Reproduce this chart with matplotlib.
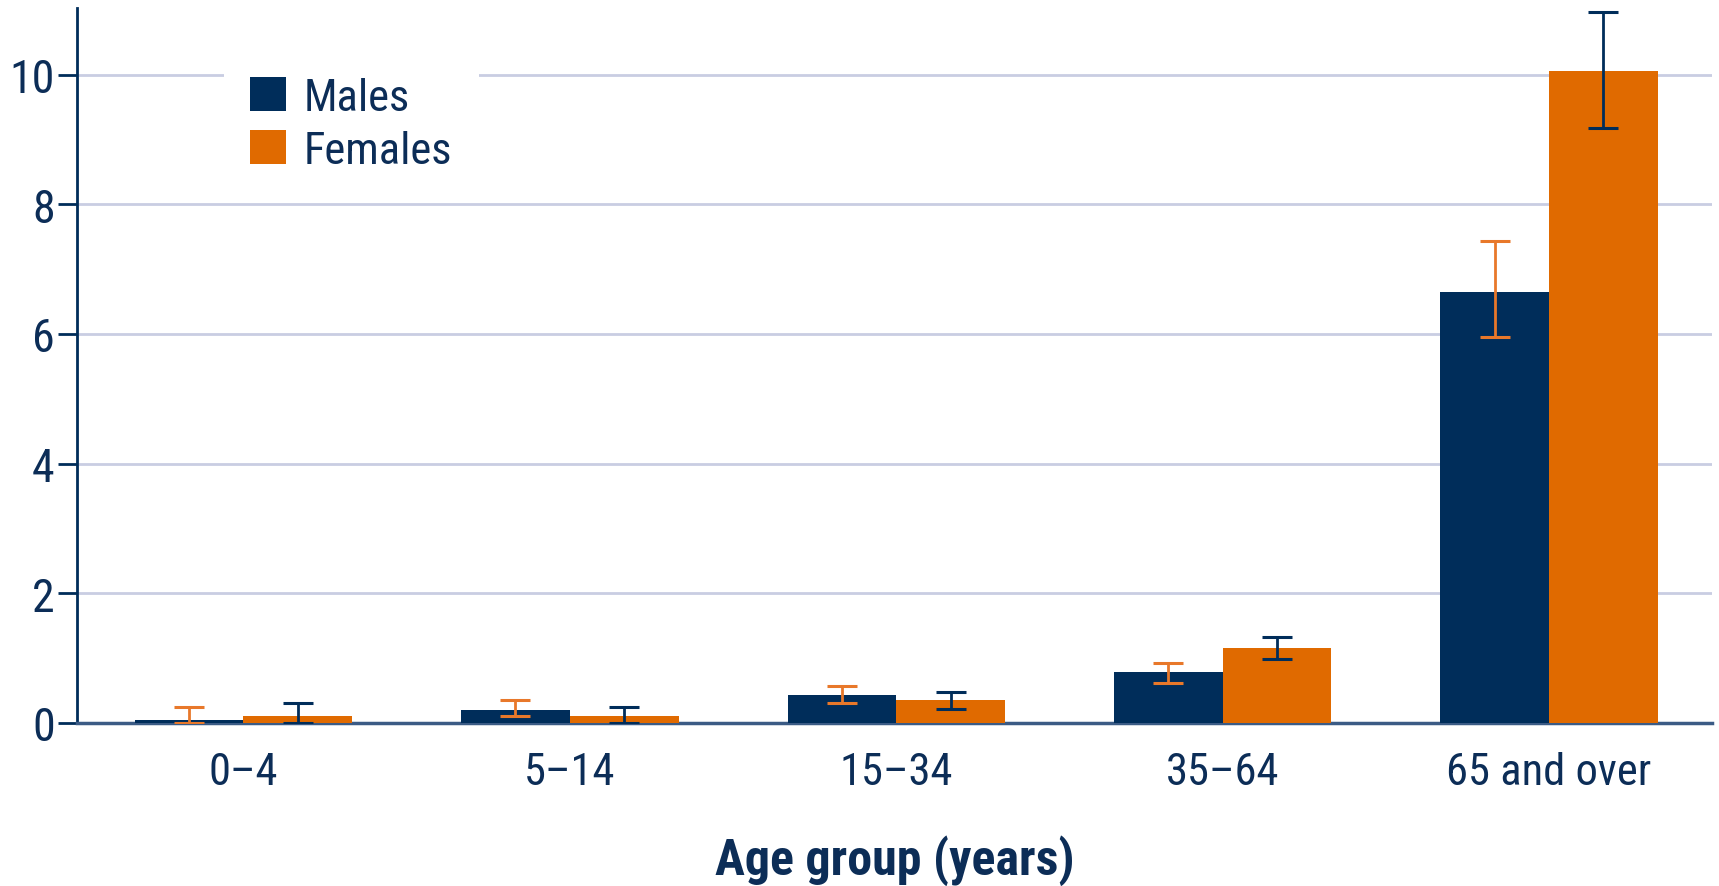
import numpy as np
import matplotlib.pyplot as plt

# values
groups = ["0\u20134", "5\u201314", "15\u201334", "35\u201364", "65 and over"]
males = [0.05, 0.20, 0.43, 0.78, 6.65]
females = [0.10, 0.10, 0.35, 1.15, 10.05]
males_lo = [0.00, 0.10, 0.30, 0.62, 5.95]
males_hi = [0.25, 0.35, 0.57, 0.93, 7.43]
females_lo = [0.00, 0.00, 0.21, 0.98, 9.18]
females_hi = [0.30, 0.24, 0.48, 1.32, 10.97]

NAVY = "#002d5a"
ORANGE = "#e06a00"
ORANGE_ERR = "#e8782a"
TEXT = "#0c2d57"
GRID = "#c9cde2"

plt.rcParams['font.family'] = ['Roboto Condensed', 'Roboto', 'DejaVu Sans']

fig = plt.figure(figsize=(17.19, 8.87), dpi=100)
ax = fig.add_axes([0.0448, 0.184, 0.9512, 0.806])

x = np.arange(len(groups))
w = 0.333
m = np.array(males)
f = np.array(females)

ax.bar(x - w/2, m, width=w, color=NAVY, label="Males", zorder=3)
ax.bar(x + w/2, f, width=w, color=ORANGE, label="Females", zorder=3)

m_err = [m - np.array(males_lo), np.array(males_hi) - m]
f_err = [f - np.array(females_lo), np.array(females_hi) - f]
ax.errorbar(x - w/2, m, yerr=m_err, fmt='none', ecolor=ORANGE_ERR,
            elinewidth=2, capsize=11, capthick=2.2, zorder=4)
ax.errorbar(x + w/2, f, yerr=f_err, fmt='none', ecolor=NAVY,
            elinewidth=2, capsize=11, capthick=2.2, zorder=4)

ax.set_xlim(-0.51, 4.5)
ax.set_ylim(0, 11.03)
ax.set_yticks([0, 2, 4, 6, 8, 10])
ax.set_xticks(x)
ax.set_xticklabels(groups)
ax.yaxis.grid(True, color=GRID, linewidth=2, zorder=0)
ax.set_axisbelow(True)

for s in ["top", "right"]:
    ax.spines[s].set_visible(False)
ax.spines["left"].set_color(NAVY)
ax.spines["left"].set_linewidth(2)
ax.spines["bottom"].set_color("#3b5b85")
ax.spines["bottom"].set_linewidth(2.5)

ax.tick_params(axis='y', length=14, width=2, color=NAVY, labelsize=33,
               labelcolor=TEXT, pad=2)
ax.tick_params(axis='x', length=0, labelsize=32, labelcolor=TEXT, pad=20)

ax.set_xlabel("Age group (years)", fontsize=36, fontweight='bold',
              color=TEXT, labelpad=30)

leg = ax.legend(loc='upper left', bbox_to_anchor=(0.076, 0.972), frameon=True,
                fancybox=False, framealpha=1, edgecolor='none', facecolor='white',
                fontsize=32, handlelength=0.8, handleheight=0.8,
                handletextpad=0.4, labelspacing=0.25, borderpad=0.6)
for t in leg.get_texts():
    t.set_color(TEXT)
leg.set_zorder(5)

fig.savefig("out.png", dpi=100)
